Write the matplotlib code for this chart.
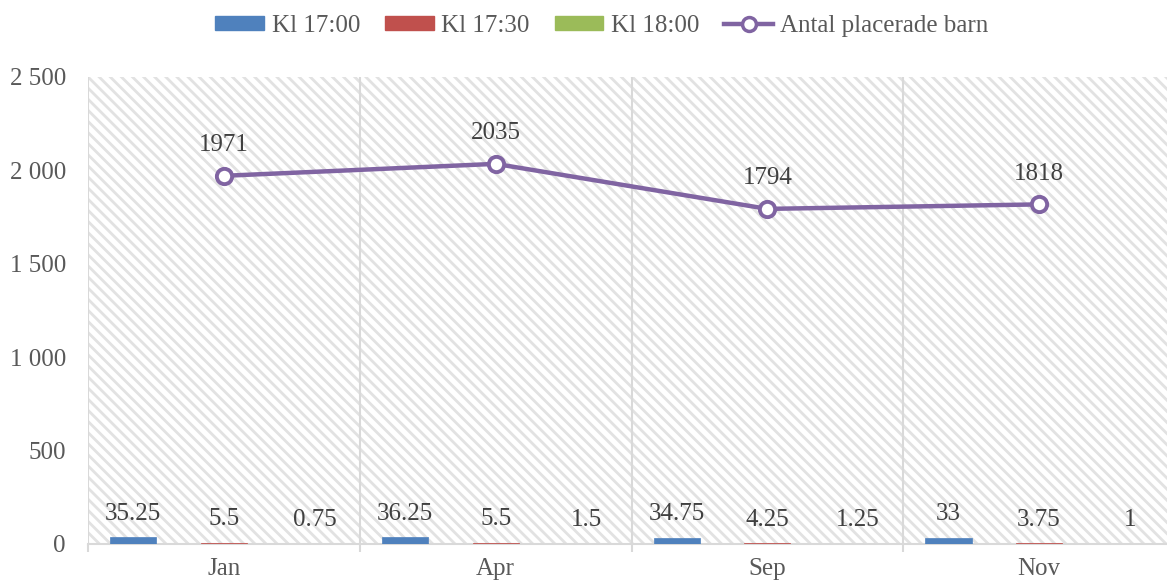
import matplotlib
matplotlib.use("Agg")
import matplotlib.pyplot as plt
from matplotlib.patches import Rectangle
from matplotlib.lines import Line2D
from matplotlib.ticker import FuncFormatter
import numpy as np

categories = ["Jan", "Apr", "Sep", "Nov"]
kl_1700 = [35.25, 36.25, 34.75, 33]
kl_1730 = [5.5, 5.5, 4.25, 3.75]
kl_1800 = [0.75, 1.5, 1.25, 1]
antal_barn = [1971, 2035, 1794, 1818]
series_names = ["Kl 17:00", "Kl 17:30", "Kl 18:00", "Antal placerade barn"]

plt.rcParams['font.family'] = ['Liberation Serif', 'DejaVu Serif']
plt.rcParams['hatch.linewidth'] = 2.0
FS = 18
TXT = '#595959'
LBL = '#404040'

fig = plt.figure(figsize=(11.67, 5.83), dpi=100)
W, H = 1167, 583
ax = fig.add_axes([88 / W, 39 / H, 1087 / W, 467 / H])

x = np.arange(len(categories))
# hatched background
bg = Rectangle((0, 0), 1, 1, transform=ax.transAxes, facecolor='white',
               edgecolor='#e2e2e2', hatch='\\\\\\', lw=0, zorder=0)
ax.add_patch(bg)
ax.patch.set_visible(False)

colors = ['#4F81BD', '#C0504D', '#9BBB59']
offs = [-1 / 3, 0, 1 / 3]
bw = 0.17
for vals, c, o in zip([kl_1700, kl_1730, kl_1800], colors, offs):
    ax.bar(x + o, vals, width=bw, color=c, edgecolor=c, lw=0.5, zorder=3)
    for xi, v in zip(x + o, vals):
        ax.annotate(f"{v:g}", (xi, v), xytext=(0, 9), textcoords='offset points',
                    ha='center', va='bottom', fontsize=FS, color=LBL, zorder=5)

ax.plot(x, antal_barn, color='#8064A2', lw=3.2, marker='o', markersize=11,
        markerfacecolor='white', markeredgecolor='#8064A2', markeredgewidth=2.8, zorder=4)
for xi, v in zip(x, antal_barn):
    ax.annotate(f"{v}", (xi, v), xytext=(0, 14), textcoords='offset points',
                ha='center', va='bottom', fontsize=FS, color=LBL, zorder=5)

ax.set_xlim(-0.5, 3.5)
ax.set_ylim(0, 2500)
ax.set_yticks([0, 500, 1000, 1500, 2000, 2500])
ax.yaxis.set_major_formatter(FuncFormatter(lambda v, p: f"{int(v):,}".replace(",", " ")))
ax.set_xticks(x)
ax.set_xticklabels(categories)
ax.set_xticks([-0.5, 0.5, 1.5, 2.5, 3.5], minor=True)
ax.tick_params(axis='x', which='major', length=0, pad=10, labelsize=FS, labelcolor=TXT)
ax.tick_params(axis='x', which='minor', length=6, width=1.5, color='#d9d9d9')
ax.tick_params(axis='y', length=0, pad=16, labelsize=FS, labelcolor=TXT)

for s in ['top', 'right', 'left']:
    ax.spines[s].set_visible(False)
ax.spines['bottom'].set_color('#d9d9d9')
ax.spines['bottom'].set_linewidth(1.5)
for b in [-0.5, 0.5, 1.5, 2.5]:
    ax.axvline(b, color='#d9d9d9', lw=1.5, zorder=1)

handles = [Rectangle((0, 0), 1, 1, color=c) for c in colors]
handles.append(Line2D([0], [0], color='#8064A2', lw=3.2, marker='o', markersize=10,
                      markerfacecolor='white', markeredgecolor='#8064A2', markeredgewidth=2.5))
leg = fig.legend(handles, series_names, loc='center', bbox_to_anchor=(602 / W, 1 - 26 / H),
                 ncol=4, frameon=False, fontsize=FS, handlelength=1.95, handleheight=0.45,
                 columnspacing=1.0, handletextpad=0.3)
for t in leg.get_texts():
    t.set_color(TXT)

fig.savefig("out.png", dpi=100)
